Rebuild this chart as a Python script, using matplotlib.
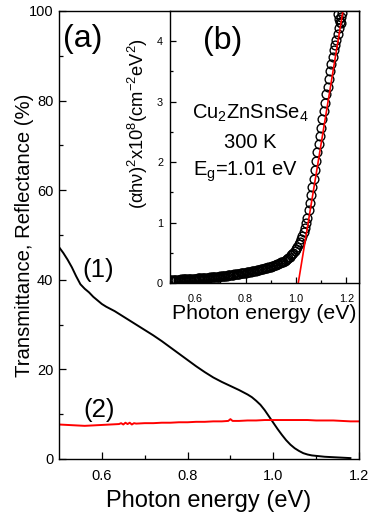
import matplotlib
matplotlib.use("Agg")
import matplotlib.pyplot as plt
import numpy as np

plt.rcParams['font.family'] = ['Liberation Sans', 'DejaVu Sans']
plt.rcParams['mathtext.fontset'] = 'custom'
plt.rcParams['mathtext.rm'] = 'Liberation Sans'
plt.rcParams['mathtext.it'] = 'Liberation Sans:italic'

# ---- main panel (a) data ----
trans_E = [0.50, 0.51, 0.52, 0.53, 0.54, 0.55, 0.56, 0.57, 0.58, 0.59, 0.60, 0.61, 0.62, 0.63,
           0.64, 0.65, 0.66, 0.67, 0.68, 0.69, 0.70, 0.72, 0.74, 0.76, 0.78, 0.80, 0.82, 0.84,
           0.86, 0.88, 0.90, 0.92, 0.94, 0.95, 0.96, 0.97, 0.98, 0.99, 1.00, 1.01, 1.02, 1.03,
           1.04, 1.05, 1.06, 1.07, 1.08, 1.09, 1.10, 1.12, 1.14, 1.16, 1.18]
trans_T = [47.3, 46.0, 44.5, 42.8, 40.8, 39.0, 38.0, 37.2, 36.2, 35.4, 34.6, 34.0, 33.5, 33.0,
           32.4, 31.8, 31.2, 30.6, 30.0, 29.4, 28.8, 27.6, 26.3, 24.9, 23.5, 22.1, 20.7, 19.4,
           18.2, 17.2, 16.3, 15.4, 14.4, 13.8, 13.0, 12.1, 10.9, 9.5, 8.1, 6.7, 5.4, 4.2,
           3.2, 2.4, 1.8, 1.3, 1.0, 0.8, 0.7, 0.5, 0.4, 0.3, 0.2]

refl_E = [0.50, 0.52, 0.54, 0.56, 0.58, 0.60, 0.62, 0.64, 0.645, 0.65, 0.655, 0.66, 0.665, 0.67,
          0.675, 0.68, 0.70, 0.72, 0.74, 0.76, 0.78, 0.80, 0.82, 0.84, 0.86, 0.88, 0.895, 0.90,
          0.905, 0.92, 0.94, 0.96, 0.98, 1.00, 1.02, 1.04, 1.06, 1.08, 1.10, 1.12, 1.14, 1.16,
          1.18, 1.20]
refl_R = [7.7, 7.6, 7.5, 7.4, 7.5, 7.6, 7.7, 7.8, 8.0, 7.7, 8.1, 7.8, 8.1, 7.7,
          8.0, 7.9, 8.0, 8.0, 8.1, 8.1, 8.2, 8.2, 8.3, 8.3, 8.4, 8.4, 8.5, 8.9,
          8.5, 8.5, 8.6, 8.6, 8.7, 8.7, 8.7, 8.7, 8.7, 8.7, 8.6, 8.6, 8.6, 8.5,
          8.4, 8.4]

# ---- inset panel (b) data ----
abs_E = [0.500, 0.505, 0.510, 0.515, 0.520, 0.525, 0.530, 0.535, 0.540, 0.545,
         0.550, 0.555, 0.560, 0.565, 0.570, 0.575, 0.580, 0.585, 0.590, 0.595,
         0.600, 0.605, 0.610, 0.615, 0.620, 0.625, 0.630, 0.635, 0.640, 0.645,
         0.650, 0.655, 0.660, 0.665, 0.670, 0.675, 0.680, 0.685, 0.690, 0.695,
         0.700, 0.705, 0.710, 0.715, 0.720, 0.725, 0.730, 0.735, 0.740, 0.745,
         0.750, 0.755, 0.760, 0.765, 0.770, 0.775, 0.780, 0.785, 0.790, 0.795,
         0.800, 0.805, 0.810, 0.815, 0.820, 0.825, 0.830, 0.835, 0.840, 0.845,
         0.850, 0.855, 0.860, 0.865, 0.870, 0.875, 0.880, 0.885, 0.890, 0.895,
         0.900, 0.905, 0.910, 0.915, 0.920, 0.925, 0.930, 0.935, 0.940, 0.945,
         0.950, 0.955, 0.960, 0.965, 0.970, 0.975, 0.980, 0.985, 0.990, 0.995,
         1.000, 1.005, 1.010, 1.015, 1.020, 1.025, 1.030, 1.035, 1.040, 1.045,
         1.050, 1.055, 1.060, 1.065, 1.070, 1.075, 1.080, 1.085, 1.090, 1.095,
         1.100, 1.105, 1.110, 1.115, 1.120, 1.125, 1.130, 1.135, 1.140, 1.145,
         1.150, 1.155, 1.160, 1.165, 1.170, 1.175, 1.180,
         1.172, 1.178, 1.168, 1.183]
abs_A = [0.050, 0.050, 0.050, 0.052, 0.052, 0.054, 0.055, 0.056, 0.057, 0.058,
         0.060, 0.061, 0.062, 0.063, 0.065, 0.066, 0.067, 0.069, 0.070, 0.071,
         0.072, 0.074, 0.075, 0.077, 0.078, 0.080, 0.081, 0.083, 0.085, 0.087,
         0.089, 0.090, 0.092, 0.094, 0.096, 0.098, 0.100, 0.102, 0.105, 0.107,
         0.110, 0.112, 0.115, 0.118, 0.120, 0.123, 0.126, 0.129, 0.132, 0.135,
         0.138, 0.141, 0.145, 0.148, 0.151, 0.155, 0.158, 0.162, 0.165, 0.169,
         0.172, 0.176, 0.180, 0.184, 0.188, 0.192, 0.196, 0.200, 0.205, 0.209,
         0.214, 0.219, 0.224, 0.229, 0.234, 0.240, 0.246, 0.252, 0.258, 0.265,
         0.272, 0.279, 0.287, 0.295, 0.303, 0.312, 0.322, 0.332, 0.343, 0.350,
         0.355, 0.365, 0.375, 0.390, 0.410, 0.430, 0.455, 0.480, 0.500, 0.530,
         0.560, 0.600, 0.640, 0.680, 0.730, 0.780, 0.840, 0.910, 0.990, 1.080,
         1.200, 1.320, 1.450, 1.580, 1.720, 1.870, 2.020, 2.160, 2.300, 2.440,
         2.570, 2.710, 2.850, 2.980, 3.120, 3.250, 3.380, 3.500, 3.620, 3.740,
         3.850, 3.940, 4.020, 4.120, 4.220, 4.310, 4.400,
         4.360, 4.300, 4.450, 4.470]

Eg = 1.01
fit_slope = 25.4
fit_E = [Eg - 0.002, 1.20]

fig = plt.figure(figsize=(3.71, 5.20), dpi=100)
W, H = 371, 520
ax = fig.add_axes([59 / W, 1 - 459 / H, 300 / W, 448 / H])
ax.plot(trans_E, trans_T, color='black', lw=1.4)
ax.plot(refl_E, refl_R, color='red', lw=1.4)
ax.set_xlim(0.5, 1.2)
ax.set_ylim(0, 100)
ax.set_xticks([0.6, 0.8, 1.0, 1.2])
ax.set_xticks([0.7, 0.9, 1.1], minor=True)
ax.set_xticklabels(['0.6', '0.8', '1.0', '1.2'])
ax.set_yticks([0, 20, 40, 60, 80, 100])
ax.set_yticks([10, 30, 50, 70, 90], minor=True)
ax.tick_params(which='both', direction='in', labelsize=10.5, width=0.9)
ax.tick_params(which='major', length=5)
ax.tick_params(which='minor', length=3)
ax.tick_params(axis='x', pad=7)
ax.tick_params(axis='y', pad=4)
for s in ax.spines.values():
    s.set_linewidth(1.0)
ax.set_xlabel('Photon energy (eV)', fontsize=17)
ax.xaxis.set_label_coords(0.5, (459 - 490) / 448)
ax.set_ylabel('Transmittance, Reflectance (%)', fontsize=14.6)
ax.yaxis.set_label_coords((34 - 59) / 300, 0.5)
ax.text(0.012, 0.972, '(a)', transform=ax.transAxes, fontsize=23, ha='left', va='top')
ax.text(0.591, 42.2, '(1)', fontsize=18.5, ha='center', va='center')
ax.text(0.593, 10.9, '(2)', fontsize=18.5, ha='center', va='center')

ins = fig.add_axes([170 / W, 1 - 283 / H, 189 / W, 272 / H])
ins.plot(abs_E, abs_A, 'o', mfc='none', mec='black', ms=6.3, mew=1.0)
fe = np.array(fit_E)
ins.plot(fe, fit_slope * (fe - Eg + 0.001), color='red', lw=1.2)
ins.set_xlim(0.5, 1.25)
ins.set_ylim(0, 4.5)
ins.set_xticks([0.6, 0.8, 1.0, 1.2])
ins.set_xticks([0.5, 0.7, 0.9, 1.1], minor=True)
ins.set_xticklabels(['0.6', '0.8', '1.0', '1.2'])
ins.set_yticks([0, 1, 2, 3, 4])
ins.set_yticks([0.5, 1.5, 2.5, 3.5], minor=True)
ins.tick_params(which='both', direction='in', labelsize=7.8, width=0.9)
ins.tick_params(which='major', length=4)
ins.tick_params(which='minor', length=2.5)
ins.tick_params(axis='x', pad=8)
ins.tick_params(axis='y', pad=5)
for s in ins.spines.values():
    s.set_linewidth(1.0)
ins.set_xlabel('Photon energy (eV)', fontsize=15.3)
ins.xaxis.set_label_coords(0.5, (283 - 304) / 272)
fig.text(138 / W, 1 - 124 / H, r'$\mathregular{(αhν)^2x10^8(cm^{-2}eV^2)}$',
         rotation=90, fontsize=13.2, ha='center', va='center')
ins.text(0.175, 0.945, '(b)', transform=ins.transAxes, fontsize=23, ha='left', va='top')
ins.text(0.423, 0.622, r'Cu$\mathregular{_2}$ZnSnSe$\mathregular{_4}$', transform=ins.transAxes,
         fontsize=14.5, ha='center', va='center')
ins.text(0.423, 0.515, '300 K', transform=ins.transAxes, fontsize=14.5, ha='center', va='center')
ins.text(0.40, 0.41, r'E$\mathregular{_g}$=1.01 eV', transform=ins.transAxes,
         fontsize=14.5, ha='center', va='center')

fig.savefig('out.png', dpi=100)
